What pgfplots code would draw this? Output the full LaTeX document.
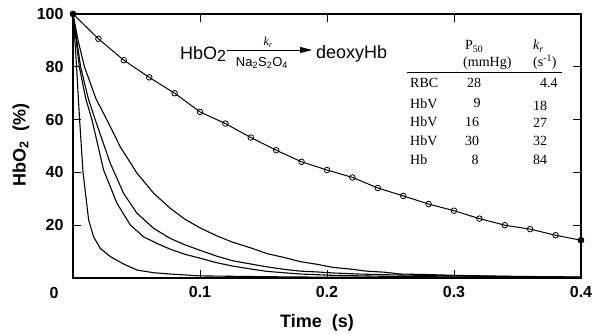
\documentclass[border=0pt]{standalone}
\usepackage{fontspec}
\setmainfont{Liberation Sans}
\newfontfamily\seriffont{Liberation Serif}
\usepackage{pgfplots}
\pgfplotsset{compat=1.18}
\usetikzlibrary{arrows.meta}
\begin{document}
\begin{tikzpicture}
\begin{axis}[
  name=main,
  at={(73pt,56pt)}, anchor=south west,
  scale only axis, width=508pt, height=264pt,
  xmin=0, xmax=0.4, ymin=0, ymax=100,
  xtick={0.1,0.2,0.3,0.4}, xticklabels={0.1,0.2,0.3,0.4},
  ytick={20,40,60,80,100},
  tick align=inside, major tick length=8pt,
  tick style={line width=0.8pt,black},
  axis line style={line width=1.2pt},
  ticklabel style={font=\fontsize{16}{16}\selectfont\bfseries},
  yticklabel style={xshift=-6pt},
  xticklabel style={yshift=-5pt},
  /pgf/number format/assume math mode=true,
]
% RBC k=4.4 (open circles)
\addplot[black, line width=1pt, mark=o, mark size=2.8pt, mark options={fill=white, line width=0.8pt}] coordinates {
(0,100) (0.02,90.6) (0.04,82.5) (0.06,76) (0.08,70) (0.10,62.9) (0.12,58.5)
(0.14,53.2) (0.16,48.4) (0.18,44.0) (0.20,40.9) (0.22,38.1) (0.24,34.1)
(0.26,31.1) (0.28,28.0) (0.30,25.5) (0.32,22.5) (0.34,20.0) (0.36,18.5)
(0.38,16.2) (0.40,14.3)};
\addplot[only marks, black, mark=*, mark size=2.8pt] coordinates {(0,100) (0.40,14.3)};
% HbV k=18
\addplot[black, line width=1.1pt] coordinates {
(0,100) (0.004,90) (0.009,80) (0.018,68) (0.0268,59.8) (0.0372,49.7) (0.0504,39.7) (0.0635,32.1) (0.0766,26.4)
(0.088,22.3) (0.1,19.0) (0.113,16.0) (0.126,13.5) (0.14,11.4) (0.153,9.2) (0.166,7.8)
(0.179,6.2) (0.192,5.2) (0.205,4.0) (0.218,3.4) (0.231,2.6) (0.245,2.2) (0.258,1.5)
(0.28,1.3) (0.3,1.0) (0.35,0.6) (0.4,0.4)};
% HbV k=27
\addplot[black, line width=1.1pt] coordinates {
(0,100) (0.003,90) (0.006,80) (0.012,68) (0.0176,59.8) (0.0294,43.4) (0.0398,32.1) (0.0504,24.5) (0.0635,18.8)
(0.0766,15.0) (0.088,12.6) (0.1,10.5) (0.113,8.3) (0.126,6.5) (0.14,5.3) (0.153,4.2)
(0.166,3.3) (0.179,2.6) (0.192,2.3) (0.205,1.9) (0.225,1.5) (0.25,1.2) (0.275,1.0)
(0.3,0.8) (0.35,0.5) (0.4,0.3)};
% HbV k=32
\addplot[black, line width=1.1pt] coordinates {
(0,100) (0.0025,90) (0.005,80) (0.010,68) (0.015,59.8) (0.0241,40.9) (0.0346,28.3) (0.0451,20.1) (0.0556,15.6)
(0.0661,13.1) (0.0766,10.9) (0.088,9.0) (0.1,7.5) (0.113,5.8) (0.126,4.5) (0.14,3.4)
(0.153,2.5) (0.166,2.0) (0.179,1.5) (0.205,1.0) (0.25,0.6) (0.3,0.4) (0.4,0.2)};
% Hb k=84
\addplot[black, line width=1.1pt] coordinates {
(0,100) (0.0015,90) (0.0028,80) (0.0052,60) (0.0079,40) (0.0123,22) (0.0162,15.6) (0.0215,11.2)
(0.0294,8.1) (0.0398,5.3) (0.0504,3.0) (0.0635,2.0) (0.0766,1.5) (0.1,0.8)
(0.15,0.5) (0.2,0.3) (0.3,0.2) (0.4,0.1)};
\end{axis}
% zero label and axis titles
\node[font=\fontsize{16}{16}\selectfont\bfseries] at (54pt,41pt) {0};
\node[font=\fontsize{18}{18}\selectfont\bfseries] at (317pt,11pt) {Time\ \ (s)};
\node[rotate=90, font=\fontsize{18}{18}\selectfont\bfseries] at (21pt,189pt) {HbO\textsubscript{2}\ \ (\%)};
% reaction scheme
\node[anchor=base west, inner sep=0pt, font=\fontsize{18}{18}\selectfont] at (180pt,274pt) {HbO\raisebox{-2pt}{\fontsize{16}{16}\selectfont 2}};
\draw[line width=0.8pt, -{Triangle[length=12pt,width=6pt]}] (227pt,284pt) -- (312pt,284pt);
\node[inner sep=0pt, font=\fontsize{12}{12}\selectfont\seriffont\itshape] at (268pt,292pt) {k\textsubscript{r}};
\node[inner sep=0pt, font=\fontsize{13}{13}\selectfont] at (262pt,271pt) {Na\textsubscript{2}S\textsubscript{2}O\textsubscript{4}};
\node[anchor=base west, inner sep=0pt, font=\fontsize{18}{18}\selectfont] at (316pt,275pt) {deoxyHb};
% table
\begin{scope}[every node/.style={inner sep=0pt, font=\fontsize{14}{14}\selectfont\seriffont}]
\node[anchor=base west] at (465pt,284pt) {P\textsubscript{50}};
\node[anchor=base west] at (463pt,267pt) {(mmHg)};
\node[anchor=base west] at (533pt,284pt) {\itshape k\textsubscript{r}};
\node[anchor=base west] at (533pt,267pt) {(s\textsuperscript{-1})};
\draw[line width=0.7pt] (407pt,262pt) -- (562pt,262pt);
\node[anchor=base west] at (410pt,246pt) {RBC};
\node[anchor=base west] at (410pt,225pt) {HbV};
\node[anchor=base west] at (410pt,207pt) {HbV};
\node[anchor=base west] at (410pt,188pt) {HbV};
\node[anchor=base west] at (410pt,169pt) {Hb};
\node[anchor=base] at (474pt,246pt) {28};
\node[anchor=base] at (477pt,226pt) {9};
\node[anchor=base] at (472pt,207pt) {16};
\node[anchor=base] at (472pt,188pt) {30};
\node[anchor=base] at (475pt,169pt) {8};
\node[anchor=base west] at (540pt,246pt) {4.4};
\node[anchor=base west] at (533pt,223pt) {18};
\node[anchor=base west] at (533pt,206pt) {27};
\node[anchor=base west] at (533pt,188pt) {32};
\node[anchor=base west] at (533pt,169pt) {84};
\end{scope}
\pgfresetboundingbox
\path[use as bounding box] (0,0) rectangle (599pt,334pt);
\end{tikzpicture}
\end{document}
